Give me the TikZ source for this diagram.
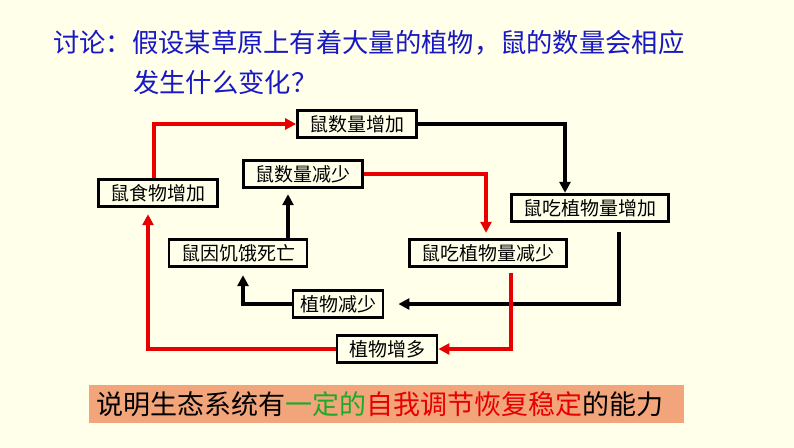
\documentclass[tikz,border=0pt]{standalone}
\usepackage{fontspec}
\setmainfont{Noto Sans CJK SC}
\usetikzlibrary{arrows.meta}
\definecolor{paper}{RGB}{255,255,234}
\definecolor{askblue}{RGB}{24,24,196}
\definecolor{loopred}{RGB}{232,0,0}
\definecolor{salmon}{RGB}{242,164,122}
\definecolor{okgreen}{RGB}{30,170,40}
\tikzset{
  stage/.style={draw, line width=2.8pt, inner xsep=12pt, inner ysep=5pt,
    font=\fontsize{19}{21}\selectfont},
  blkarr/.style={line width=3.3pt, -{Triangle[length=11pt,width=11pt]}},
  redarr/.style={blkarr, draw=loopred, -{Triangle[length=11pt,width=11pt,fill=loopred]}}
}
\begin{document}
\begin{tikzpicture}[x=1pt, y=-1pt, line join=miter]
\useasboundingbox (0,0) rectangle (794,447);
\fill[paper] (0,0) rectangle (794,447);
% question
\node (q1) [anchor=west, text=askblue, inner sep=0, font=\fontsize{26.3}{28}\selectfont] at (53,43)
  {讨论：假设某草原上有着大量的植物，鼠的数量会相应};
\node (q2) [anchor=west, text=askblue, inner sep=0, font=\fontsize{26.3}{28}\selectfont] at (133,82)
  {发生什么变化？};
% stages of the loop
\node (inc) [stage] at (357,124) {鼠数量增加};
\node (dec) [stage] at (303,174) {鼠数量减少};
\node (food) [stage] at (158,193) {鼠食物增加};
\node (eatinc) [stage] at (590,208) {鼠吃植物量增加};
\node (starve) [stage] at (238,253) {鼠因饥饿死亡};
\node (eatdec) [stage] at (488,253) {鼠吃植物量减少};
\node (plantdec) [stage, inner xsep=7pt] at (338,304) {植物减少};
\node (plantinc) [stage] at (387,349) {植物增多};
% connectors
\draw[redarr] ([xshift=-4pt]food.north) |- (inc.west);
\draw[blkarr] (inc.east) -| ([xshift=-25pt]eatinc.north);
\draw[blkarr, shorten <=9pt, shorten >=14pt] ([xshift=29pt]eatinc.south) |- (plantdec.east);
\draw[blkarr, shorten >=7pt] (plantdec.west) -| ([xshift=5pt]starve.south);
\draw[blkarr, shorten >=5pt] ([xshift=-15pt]dec.south |- starve.north) -- ([xshift=-15pt]dec.south);
\draw[redarr, shorten >=5pt] (dec.east) -| ([xshift=-2pt]eatdec.north);
\draw[redarr, shorten <=5pt] ([xshift=23pt]eatdec.south) |- (plantinc.east);
\draw[redarr, shorten >=6pt] (plantinc.west) -| ([xshift=-10pt]food.south);
% conclusion
\fill[salmon] (89,385) rectangle (684,423);
\node (banner) [anchor=west, inner sep=0pt, font=\fontsize{27}{29}\selectfont] at (96,404)
  {说明生态系统有\textcolor{okgreen}{一定的}\textcolor{loopred}{自我调节恢复稳定}的能力};
\end{tikzpicture}
\end{document}
